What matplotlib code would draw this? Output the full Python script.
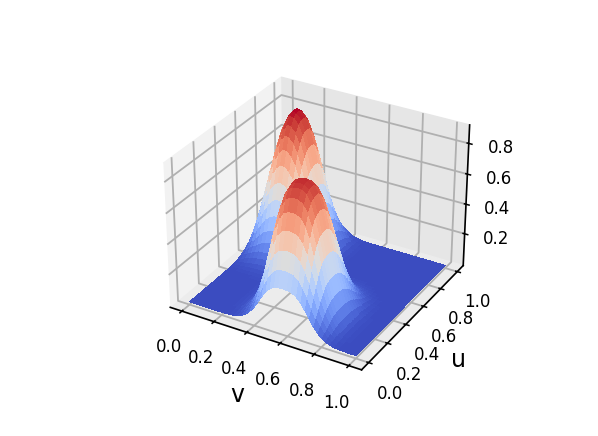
import numpy as np
import matplotlib

matplotlib.use('Agg')
import matplotlib.pyplot as plt

# sample positions along each axis
v_grid = [i / 40 for i in range(41)]
u_grid = [i / 40 for i in range(41)]

# heights of the two bumps
front_peak = 0.865
back_peak = 0.9

v_front = [0, 0, 0, 0, 0, 0, 0, 0, .001, .003, .008, .020, .043, .083, .148, .241, .361, .52, .68, .82,
           .92, .975, .995, 1, .995, .975, .92, .82, .68, .52, .361, .241, .148, .083, .043, .020, .008, .003,
           .001, 0, 0]
u_front = [.33, .45, .58, .71, .83, .92, .97, .99, 1, .996, .976, .934, .870, .784, .681, .569, .455, .347, .252, .174,
           .114, .070, .041, .023, .012, .006, .002, .001, 0, 0, 0, 0, 0, 0, 0, 0, 0, 0, 0, 0, 0]
v_back = [.17, .34, .50, .644, .777, .885, .957, 1, .992, .957, .885, .777, .644, .5, .361, .241, .148, .083,
          .043, .020, .008, .003, .001, 0, 0, 0, 0, 0, 0, 0, 0, 0, 0, 0, 0, 0, 0, 0, 0, 0, 0]
u_back = [0, 0, 0, 0, 0, 0, 0, 0, 0, 0, 0, 0, 0, .001, .002, .006, .012, .023, .041, .070, .114, .174, .252, .347,
          .455, .569, .681, .784, .870, .934, .976, .996, 1, .992, .957, .885, .777, .644, .5, .361, .241]

plt.rcParams['grid.linewidth'] = 1.3
plt.rcParams['axes.linewidth'] = 1.2
plt.rcParams['xtick.major.width'] = 1.1
plt.rcParams['ytick.major.width'] = 1.1

fig = plt.figure(figsize=(5.98, 4.36), dpi=100)
ax = fig.add_axes([.1335, .1025, .786, .781], projection='3d')

V, U = np.meshgrid(v_grid, u_grid)
Z = front_peak * np.outer(u_front, v_front) + back_peak * np.outer(u_back, v_back)

ax.plot_surface(V, U, Z, cmap='coolwarm', linewidth=0, antialiased=False, rcount=50, ccount=50)
ax.set_xlabel('v', fontsize=17, labelpad=8)
ax.set_ylabel('u', fontsize=17, labelpad=8)
ax.set_xticks([0, .2, .4, .6, .8, 1])
ax.set_yticks([0, .2, .4, .6, .8, 1])
ax.set_zticks([.2, .4, .6, .8])
ax.tick_params(labelsize=12, pad=6)
ax.xaxis.set_pane_color((.95, .95, .95, 1))
ax.yaxis.set_pane_color((.9, .9, .9, 1))
ax.zaxis.set_pane_color((.925, .925, .925, 1))

fig.savefig('out.png', dpi=100)
